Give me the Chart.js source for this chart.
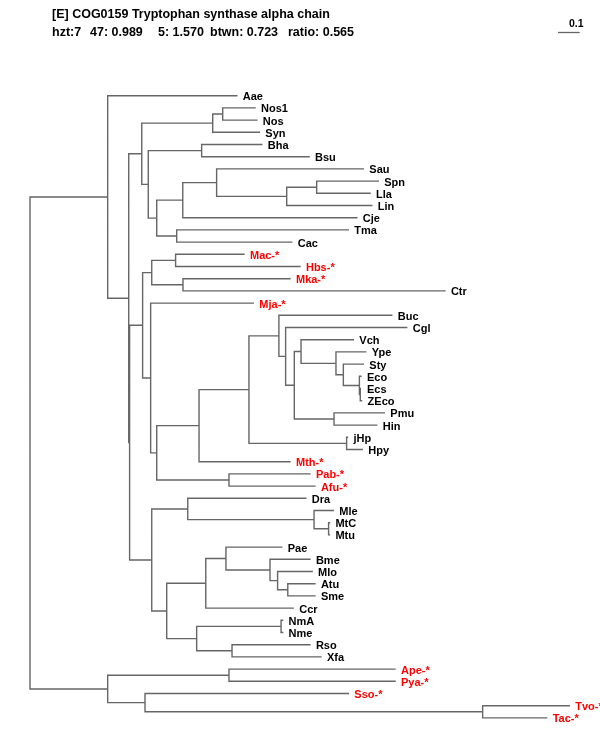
<!DOCTYPE html>
<html lang="en">
<head>
    <meta charset="UTF-8">
    <title>COG0159 Tryptophan synthase alpha chain</title>
    <script src="https://cdn.jsdelivr.net/npm/chart.js"></script>
    <style>
        body { margin: 0; background: #fff; }
        canvas { display: block; }
    </style>
</head>
<body>
    <canvas id="tree" width="600" height="750"></canvas>

    <script>
        // leaves, top to bottom, with distance from root (0.1 = scale bar)
        const leafIds = ['Aae', 'Nos1', 'Nos', 'Syn', 'Bha', 'Bsu', 'Sau', 'Spn', 'Lla', 'Lin',
            'Cje', 'Tma', 'Cac', 'Mac', 'Hbs', 'Mka', 'Ctr', 'Mja', 'Buc', 'Cgl',
            'Vch', 'Ype', 'Sty', 'Eco', 'Ecs', 'ZEco', 'Pmu', 'Hin', 'jHp', 'Hpy',
            'Mth', 'Pab', 'Afu', 'Dra', 'Mle', 'MtC', 'Mtu', 'Pae', 'Bme', 'Mlo',
            'Atu', 'Sme', 'Ccr', 'NmA', 'Nme', 'Rso', 'Xfa', 'Ape', 'Pya', 'Sso',
            'Tvo', 'Tac'];
        const leafDepth = [0.953, 1.037, 1.045, 1.057, 1.068, 1.286, 1.536, 1.605, 1.567, 1.575,
            1.506, 1.467, 1.206, 0.986, 1.244, 1.198, 1.912, 1.029, 1.667, 1.736,
            1.490, 1.547, 1.536, 1.525, 1.525, 1.528, 1.633, 1.598, 1.463, 1.531,
            1.198, 1.290, 1.313, 1.271, 1.398, 1.380, 1.380, 1.160, 1.290, 1.300,
            1.313, 1.313, 1.213, 1.164, 1.164, 1.290, 1.341, 1.682, 1.682, 1.467,
            2.485, 2.381];
        // archaeal leaves, shown in red with "-*"
        const starred = ['Mac', 'Hbs', 'Mka', 'Mja', 'Mth', 'Pab', 'Afu', 'Ape', 'Pya', 'Sso', 'Tvo', 'Tac'];

        // internal nodes
        const nodeIds = ['nos12', 'nos', 'bha', 'spn', 'lin', 'sau', 'cje', 'tma', 'nB', 'nA', 'n141',
            'mac', 'mka', 'n151', 'ecs', 'eco', 'sty', 'ype', 'vch', 'pmu', 'n294', 'cgl', 'buc',
            'hp', 'n249', 'n199', 'pab', 'n156', 'mja', 'n142',
            'mt', 'mle', 'dra', 'atu', 'mlo', 'bme', 'pae', 'ccr', 'nm', 'rso', 'n196', 'n166', 'n151b',
            'N2', 'N1', 'top', 'ape', 'tv', 'sso', 'arch', 'root'];
        const nodeDepth = [0.888, 0.842, 0.791, 1.321, 1.183, 0.860, 0.704, 0.676, 0.584, 0.545, 0.515,
            0.671, 0.705, 0.561, 1.522, 1.518, 1.444, 1.410, 1.249, 1.401, 1.218, 1.178, 1.147,
            1.459, 1.009, 0.779, 0.917, 0.584, 0.556, 0.519,
            1.376, 1.309, 0.727, 1.188, 1.141, 1.106, 0.903, 0.810, 1.157, 0.931, 0.768, 0.630, 0.561,
            0.459, 0.455, 0.358, 0.917, 2.086, 0.530, 0.358, 0];
        const nodeKids = [['Nos1', 'Nos'], ['nos12', 'Syn'], ['Bha', 'Bsu'], ['Spn', 'Lla'], ['spn', 'Lin'],
            ['Sau', 'lin'], ['sau', 'Cje'], ['Tma', 'Cac'], ['cje', 'tma'], ['bha', 'nB'], ['nos', 'nA'],
            ['Mac', 'Hbs'], ['Mka', 'Ctr'], ['mac', 'mka'], ['Ecs', 'ZEco'], ['Eco', 'ecs'], ['Sty', 'eco'],
            ['Ype', 'sty'], ['Vch', 'ype'], ['Pmu', 'Hin'], ['vch', 'pmu'], ['Cgl', 'n294'], ['Buc', 'cgl'],
            ['jHp', 'Hpy'], ['buc', 'hp'], ['n249', 'Mth'], ['Pab', 'Afu'], ['n199', 'pab'], ['Mja', 'n156'],
            ['n151', 'mja'],
            ['MtC', 'Mtu'], ['Mle', 'mt'], ['Dra', 'mle'], ['Atu', 'Sme'], ['Mlo', 'atu'], ['Bme', 'mlo'],
            ['Pae', 'bme'], ['pae', 'Ccr'], ['NmA', 'Nme'], ['Rso', 'Xfa'], ['nm', 'rso'], ['ccr', 'n196'],
            ['dra', 'n166'], ['n142', 'n151b'], ['n141', 'N2'], ['Aae', 'N1'], ['Ape', 'Pya'], ['Tvo', 'Tac'],
            ['Sso', 'tv'], ['ape', 'sso'], ['top', 'arch']];

        const titleText = '[E] COG0159 Tryptophan synthase alpha chain';
        const statsText = ['hzt:7', '47: 0.989', '5: 1.570', 'btwn: 0.723', 'ratio: 0.565'];
        const statsX = [52, 90, 158, 210, 288];

        function depthOf(id) {
            const i = leafIds.indexOf(id);
            return i >= 0 ? leafDepth[i] : nodeDepth[nodeIds.indexOf(id)];
        }
        function rowOf(id) {
            const i = leafIds.indexOf(id);
            if (i >= 0) return i;
            const kids = nodeKids[nodeIds.indexOf(id)];
            return (rowOf(kids[0]) + rowOf(kids[kids.length - 1])) / 2;
        }

        // branch segments, separated by gaps
        const branches = [];
        nodeIds.forEach((id, n) => {
            const x = nodeDepth[n];
            const kids = nodeKids[n];
            branches.push({x: x, y: rowOf(kids[0])}, {x: x, y: rowOf(kids[kids.length - 1])}, {x: null, y: null});
            kids.forEach(k => {
                branches.push({x: x, y: rowOf(k)}, {x: depthOf(k), y: rowOf(k)}, {x: null, y: null});
            });
        });

        const textPlugin = {
            id: 'treeText',
            afterDatasetsDraw(chart) {
                const ctx = chart.ctx;
                const xs = chart.scales.x, ys = chart.scales.y;
                ctx.save();
                ctx.textBaseline = 'middle';
                ctx.font = 'bold 11px "Liberation Sans", Arial, sans-serif';
                leafIds.forEach((id, i) => {
                    const star = starred.includes(id);
                    ctx.fillStyle = star ? '#ff0000' : '#000000';
                    ctx.fillText(star ? id + '-*' : id, xs.getPixelForValue(leafDepth[i]) + 6, ys.getPixelForValue(i) + 1.5);
                });

                ctx.fillStyle = '#000000';
                ctx.font = 'bold 12.5px "Liberation Sans", Arial, sans-serif';
                ctx.fillText(titleText, 52, 15);
                statsText.forEach((t, i) => ctx.fillText(t, statsX[i], 33));

                // scale bar, 0.1 units
                const x0 = 558;
                const x1 = x0 + xs.getPixelForValue(0.1) - xs.getPixelForValue(0);
                ctx.strokeStyle = '#666666';
                ctx.lineWidth = 1.3;
                ctx.beginPath();
                ctx.moveTo(x0, 32.5);
                ctx.lineTo(x1, 32.5);
                ctx.stroke();
                ctx.font = 'bold 10.5px "Liberation Sans", Arial, sans-serif';
                ctx.fillText('0.1', 569, 24);
                ctx.restore();
            }
        };

        new Chart(document.getElementById('tree'), {
            type: 'scatter',
            data: {
                datasets: [{
                    data: branches,
                    showLine: true,
                    spanGaps: false,
                    borderColor: '#666666',
                    borderWidth: 1.4,
                    borderCapStyle: 'square',
                    pointRadius: 0,
                    clip: false
                }]
            },
            options: {
                responsive: false,
                animation: false,
                events: [],
                layout: {padding: {left: 30, right: 0, top: 95.7, bottom: 32.1}},
                scales: {
                    x: {type: 'linear', min: 0, max: 570 / 217, display: false},
                    y: {type: 'linear', min: 0, max: leafIds.length - 1, reverse: true, display: false}
                },
                plugins: {legend: {display: false}, tooltip: {enabled: false}}
            },
            plugins: [textPlugin]
        });
    </script>
</body>
</html>
